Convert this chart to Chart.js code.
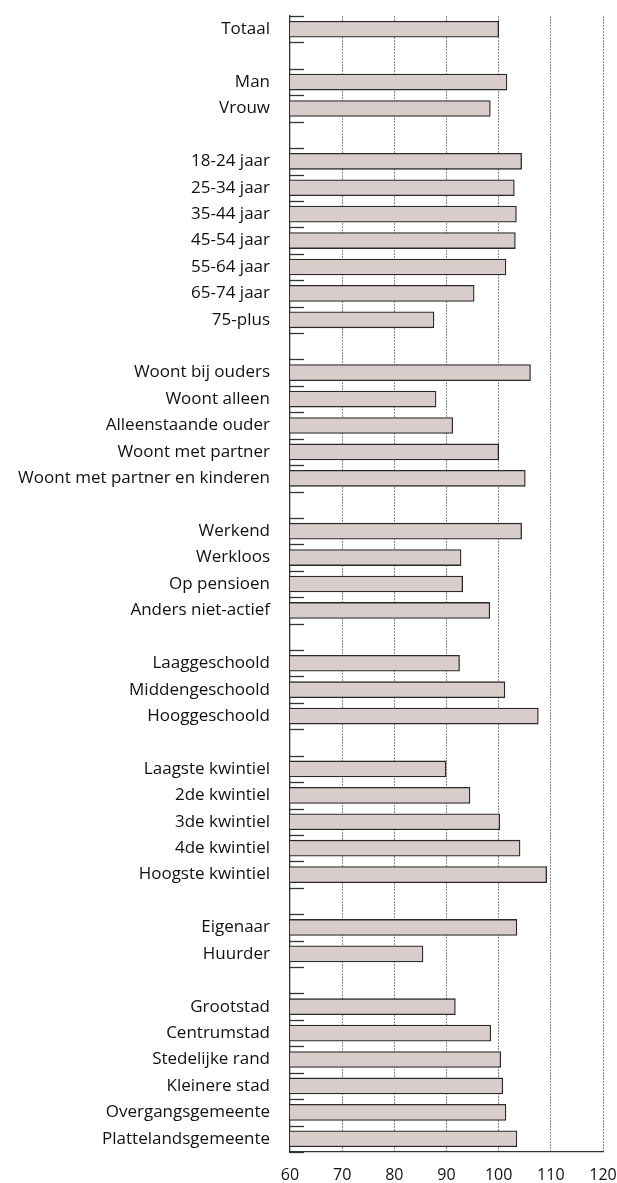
<!DOCTYPE html>
<html>
<head>
<meta charset="utf-8">
<script src="https://cdn.jsdelivr.net/npm/chart.js@4.4.0/dist/chart.umd.min.js"></script>
<style>
  html, body { margin: 0; padding: 0; background: #ffffff; }
  #wrap { width: 617px; height: 1183px; position: relative; }
</style>
</head>
<body>
<div id="wrap"><canvas id="c"></canvas></div>
<script>
// Categories ('' = blank spacer row between groups)
const categories = [
  'Totaal', '',
  'Man', 'Vrouw', '',
  '18-24 jaar', '25-34 jaar', '35-44 jaar', '45-54 jaar', '55-64 jaar', '65-74 jaar', '75-plus', '',
  'Woont bij ouders', 'Woont alleen', 'Alleenstaande ouder', 'Woont met partner', 'Woont met partner en kinderen', '',
  'Werkend', 'Werkloos', 'Op pensioen', 'Anders niet-actief', '',
  'Laaggeschoold', 'Middengeschoold', 'Hooggeschoold', '',
  'Laagste kwintiel', '2de kwintiel', '3de kwintiel', '4de kwintiel', 'Hoogste kwintiel', '',
  'Eigenaar', 'Huurder', '',
  'Grootstad', 'Centrumstad', 'Stedelijke rand', 'Kleinere stad', 'Overgangsgemeente', 'Plattelandsgemeente'
];
const values = [
  100, null,
  101.6, 98.4, null,
  104.4, 103.0, 103.4, 103.2, 101.4, 95.3, 87.6, null,
  106.1, 88.0, 91.2, 100.0, 105.1, null,
  104.4, 92.8, 93.1, 98.3, null,
  92.5, 101.2, 107.6, null,
  89.9, 94.5, 100.2, 104.1, 109.2, null,
  103.5, 85.5, null,
  91.7, 98.5, 100.4, 100.8, 101.4, 103.5
];
const xTicks = [60, 70, 80, 90, 100, 110, 120];

const FONT = '"Open Sans", "DejaVu Sans", sans-serif';

const innerTicks = {
  id: 'innerTicks',
  afterDraw(chart) {
    const y = chart.scales.y;
    const area = chart.chartArea;
    const ctx = chart.ctx;
    const step = y.getPixelForValue(1) - y.getPixelForValue(0);
    ctx.save();
    ctx.strokeStyle = '#333333';
    ctx.lineWidth = 1.3;
    for (let i = 0; i <= categories.length; i++) {
      const py = Math.round(y.getPixelForValue(i) - step / 2) + 0.5;
      ctx.beginPath();
      ctx.moveTo(area.left, py);
      ctx.lineTo(area.left + 14, py);
      ctx.stroke();
    }
    ctx.restore();
  }
};

new Chart(document.getElementById('c'), {
  type: 'bar',
  data: {
    labels: categories,
    datasets: [{
      data: values,
      backgroundColor: '#d9cdcb',
      borderColor: '#2a2a2a',
      borderWidth: 1.3,
      borderSkipped: false,
      barThickness: 16
    }]
  },
  options: {
    indexAxis: 'y',
    responsive: true,
    maintainAspectRatio: false,
    animation: false,
    layout: { padding: { top: 16, right: 14, left: 0, bottom: 0 } },
    plugins: { legend: { display: false }, tooltip: { enabled: false } },
    scales: {
      x: {
        type: 'linear',
        min: 60,
        max: 120,
        afterBuildTicks(scale) { scale.ticks = xTicks.map(v => ({ value: v })); },
        afterFit(scale) {
          scale.height = 31;
          scale.paddingLeft = 0; scale.paddingRight = 0;
        },
        grid: {
          display: true,
          color: (ctx) => (ctx.tick && ctx.tick.value === 60) ? 'rgba(0,0,0,0)' : '#8a8a8a',
          lineWidth: 1,
          drawTicks: false
        },
        border: { display: true, color: '#333333', width: 1.3, dash: [2, 1] },
        ticks: {
          color: '#111111',
          font: { family: FONT, size: 16 },
          padding: 14
        }
      },
      y: {
        type: 'category',
        offset: true,
        afterFit(scale) {
          scale.width = 290;
          scale.paddingTop = 0; scale.paddingBottom = 0;
        },
        grid: { display: false, drawTicks: false },
        border: { display: true, color: '#333333', width: 1.3 },
        ticks: {
          color: '#111111',
          font: { family: FONT, size: 17 },
          padding: 20,
          autoSkip: false
        }
      }
    }
  },
  plugins: [innerTicks]
});
</script>
</body>
</html>
